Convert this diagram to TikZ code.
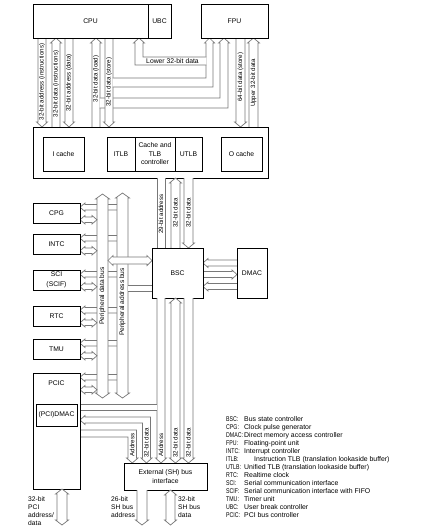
\documentclass[tikz,border=0pt]{standalone}
\usepackage{fontspec}
\setmainfont{Liberation Sans}
\definecolor{busc}{RGB}{120,120,120}
\newcommand\fsA{\fontsize{6.8}{8}\selectfont}
\newcommand\fsB{\fontsize{6.2}{7}\selectfont}
\newcommand\fsL{\fontsize{6.9}{8}\selectfont}
\def\bHL{5}
\def\bSW{1.5}
% vertical bands: #1 x left, #2 x right, #3 y top, #4 y bottom
\newcommand\vAA[4]{\path[bus] (#1,{#3+\bHL}) -- ({#1-\bSW},{#3+\bHL}) -- ({(#1+#2)/2},#3) -- ({#2+\bSW},{#3+\bHL}) -- (#2,{#3+\bHL}) -- (#2,{#4-\bHL}) -- ({#2+\bSW},{#4-\bHL}) -- ({(#1+#2)/2},#4) -- ({#1-\bSW},{#4-\bHL}) -- (#1,{#4-\bHL}) -- cycle;}
\newcommand\vAF[4]{\path[bus] (#1,#4) -- (#1,{#3+\bHL}) -- ({#1-\bSW},{#3+\bHL}) -- ({(#1+#2)/2},#3) -- ({#2+\bSW},{#3+\bHL}) -- (#2,{#3+\bHL}) -- (#2,#4);}
\newcommand\vFA[4]{\path[bus] (#1,#3) -- (#1,{#4-\bHL}) -- ({#1-\bSW},{#4-\bHL}) -- ({(#1+#2)/2},#4) -- ({#2+\bSW},{#4-\bHL}) -- (#2,{#4-\bHL}) -- (#2,#3);}
\newcommand\vFF[4]{\fill[white] (#1,#3) rectangle (#2,#4); \draw[busl] (#1,#3) -- (#1,#4) (#2,#3) -- (#2,#4);}
% horizontal bands: #1 y top, #2 y bottom, #3 x left, #4 x right
\newcommand\hAA[4]{\path[bus] ({#3+\bHL},#1) -- ({#4-\bHL},#1) -- ({#4-\bHL},{#1-\bSW}) -- (#4,{(#1+#2)/2}) -- ({#4-\bHL},{#2+\bSW}) -- ({#4-\bHL},#2) -- ({#3+\bHL},#2) -- ({#3+\bHL},{#2+\bSW}) -- (#3,{(#1+#2)/2}) -- ({#3+\bHL},{#1-\bSW}) -- cycle;}
\newcommand\hAF[4]{\path[bus] (#4,#1) -- ({#3+\bHL},#1) -- ({#3+\bHL},{#1-\bSW}) -- (#3,{(#1+#2)/2}) -- ({#3+\bHL},{#2+\bSW}) -- ({#3+\bHL},#2) -- (#4,#2);}
\newcommand\hFA[4]{\path[bus] (#3,#1) -- ({#4-\bHL},#1) -- ({#4-\bHL},{#1-\bSW}) -- (#4,{(#1+#2)/2}) -- ({#4-\bHL},{#2+\bSW}) -- ({#4-\bHL},#2) -- (#3,#2);}
% box: name, x1, y1, x2, y2, text
\newcommand\bx[6]{\node[box, minimum width={#4-#2}, minimum height={#5-#3}] (#1) at ({(#2+#4)/2},{(#3+#5)/2}) {#6};}
\begin{document}
\begin{tikzpicture}[x=1pt,y=-1pt,
  bus/.style={fill=white,draw=busc,line width=0.7pt,line join=miter},
  busl/.style={draw=busc,line width=0.7pt},
  box/.style={draw=black,fill=white,line width=0.8pt,inner sep=0pt,align=center,font=\fsA},
  blab/.style={rotate=90,font=\fsB,inner sep=0pt},
  txt/.style={font=\fsA,inner sep=0pt}]
\path[use as bounding box, fill=white] (0,0) rectangle (423,532);

% ---------- CPU / FPU <-> cache buses ----------
\vFA{38}{46}{38}{127}
\vAF{52}{60}{38}{127}
\vFA{65}{73}{38}{127}
\vAF{92}{100}{38}{127}
% load data branch to FPU (band B + F2)
\path[bus] (99.6,98) -- (220,98) -- (220,43) -- (218.5,43) -- (224,38) -- (229.5,43) -- (228,43) -- (228,108) -- (99.6,108);
\vFA{105}{113}{38}{127}
% store data branch to FPU (band A + F1)
\path[bus] (112.6,78) -- (206,78) -- (206,43) -- (204.5,43) -- (209.5,38) -- (214.5,43) -- (213,43) -- (213,87) -- (112.6,87);
% lower 32-bit data
\path[bus] (206.4,57) -- (143,57) -- (143,43) -- (144.5,43) -- (139,38) -- (133.5,43) -- (135,43) -- (135,65) -- (206.4,65);
\vFA{236}{245}{38}{127}
\vAF{249}{258}{38}{127}

\node[txt] (lowlab) at (172.5,61) {Lower 32-bit data};
\node[blab] (l1) at (42,82) {32-bit address (instructions)};
\node[blab] (l2) at (56,84) {32-bit data (instructions)};
\node[blab] (l3) at (69,83) {32-bit address (data)};
\node[blab] (l4) at (96,79) {32-bit data (load)};
\node[blab] (l5) at (109,82) {32-bit data (store)};
\node[blab] (l6) at (240.5,77) {64-bit data (store)};
\node[blab] (l7) at (253.5,83) {Upper 32-bit data};

% ---------- top boxes ----------
\bx{cpu}{33}{4}{148}{38}{CPU}
\bx{ubc}{148}{4}{171}{38}{UBC}
\bx{fpu}{201}{4}{268}{38}{FPU}

% ---------- cache block ----------
\bx{cacheblk}{33}{127}{268}{178}{}
\bx{icache}{43}{137}{84}{171}{I cache}
\bx{itlb}{107}{137}{135}{171}{ITLB}
\node[box, minimum width=40, minimum height=34, font=\fontsize{6.8}{8.5}\selectfont] (ctl) at (155,154) {Cache and\\TLB\\controller};
\bx{utlb}{175}{137}{202}{171}{UTLB}
\bx{ocache}{221}{137}{262}{171}{O cache}

% ---------- cache <-> BSC ----------
\vFF{157}{165}{178}{248}
\vAF{171}{180}{178}{248}
\vFA{184}{193}{178}{248}
\node[blab] (m1) at (161,214) {29-bit address};
\node[blab] (m2) at (175.5,213) {32-bit data};
\node[blab] (m3) at (188.5,213) {32-bit data};

% ---------- peripheral buses ----------
\foreach \t in {203,234,270,306,339,373} {
  \hAF{\t+1.5}{\t+7}{80}{117}
}
\vAA{97}{108}{194}{398}
\foreach \t in {203,234,270,306,339,373} {
  \hAA{\t+14}{\t+19.5}{80}{97}
}
\vAA{117}{128}{193}{398}
\hAA{257}{264}{108}{152}
\fill[white] (127.6,285) rectangle (152,291);
\draw[busl] (128,285) -- (152,285) (128,291) -- (152,291);
\node[blab, font=\fontsize{6.6}{7}\selectfont] (pdl) at (102.5,296) {Peripheral data bus};
\node[blab, font=\fontsize{6.6}{7}\selectfont] (pal) at (122.5,302) {Peripheral address bus};

% ---------- BSC / DMAC ----------
\hAF{260}{266}{203}{237}
\hFA{271.5}{277.5}{203}{237}
\hAF{283.5}{289.5}{203}{237}
\bx{bsc}{152}{248}{203}{298}{BSC}
\bx{dmac}{237}{248}{267}{298}{DMAC}

% ---------- BSC / PCIC -> external bus interface ----------
\vFA{157}{165}{298}{463}
\vAA{171}{180}{298}{463}
\vFA{184}{193}{298}{463}
\fill[white] (80,404) rectangle (157.4,410);
\draw[busl] (80,404) -- (157,404) (80,410) -- (157,410);
\path[bus] (85,417) -- (150.5,417) -- (150.5,458) -- (152,458) -- (146.5,463) -- (141,458) -- (142.5,458) -- (142.5,423) -- (85,423) -- (85,424.5) -- (80,420) -- (85,415.5) -- cycle;
\path[bus] (80,430) -- (136.5,430) -- (136.5,458) -- (138,458) -- (132.25,463) -- (126.5,458) -- (128,458) -- (128,437) -- (80,437);
\node[blab] (e1) at (132.25,445) {Address};
\node[blab] (e2) at (146.5,443) {32-bit data};
\node[blab] (d1) at (161,445) {Address};
\node[blab] (d2) at (175.5,443) {32-bit data};
\node[blab] (d3) at (188.5,443) {32-bit data};

% ---------- peripheral modules ----------
\bx{cpg}{33}{203}{80}{223}{CPG}
\bx{intc}{33}{234}{80}{254}{INTC}
\node[box, minimum width=47, minimum height=20, font=\fontsize{6.8}{9.5}\selectfont] (sci) at (56.5,280) {SCI\\(SCIF)};
\bx{rtc}{33}{306}{80}{326}{RTC}
\bx{tmu}{33}{339}{80}{359}{TMU}
\bx{pcic}{33}{373}{80}{489}{}
\node[txt] (pcicl) at (56.5,383) {PCIC};
\bx{pdmac}{36}{404}{77}{426}{(PCI)DMAC}

\node[box, minimum width=83, minimum height=27, font=\fontsize{6.8}{9}\selectfont] (ext) at (165.5,476.5) {External (SH) bus\\interface};

% ---------- external buses ----------
\vAA{57}{67}{489}{525}
\vFA{137}{147}{490}{525}
\vAA{166}{175}{490}{525}
\node[txt, align=left, anchor=north west, font=\fontsize{6.7}{8}\selectfont] (pcib) at (28,496.5) {32-bit\\PCI\\address/\\data};
\node[txt, align=left, anchor=north west, font=\fontsize{6.7}{8}\selectfont] (sha) at (111,496.5) {26-bit\\SH bus\\address};
\node[txt, align=left, anchor=north west, font=\fontsize{6.7}{8}\selectfont] (shd) at (178,496.5) {32-bit\\SH bus\\data};

% ---------- legend ----------
\foreach \ab/\de/\dx [count=\i from 0] in {BSC:/Bus state controller/244, CPG:/Clock pulse generator/244, DMAC:/Direct memory access controller/244, FPU:/Floating-point unit/244, INTC:/Interrupt controller/244, ITLB:/Instruction TLB (translation lookaside buffer)/254, UTLB:/Unified TLB (translation lookaside buffer)/244, RTC:/Realtime clock/244, SCI:/Serial communication interface/244, SCIF:/Serial communication interface with FIFO/244, TMU:/Timer unit/244, UBC:/User break controller/244, PCIC:/PCI bus controller/244} {
  \node[inner sep=0pt, font=\fsL, anchor=base west, xscale=0.76] (lga\i) at (226,{421.4+8*\i}) {\ab};
  \node[inner sep=0pt, font=\fsL, anchor=base west] (lgd\i) at (\dx,{421.4+8*\i}) {\de};
}
\end{tikzpicture}
\end{document}
